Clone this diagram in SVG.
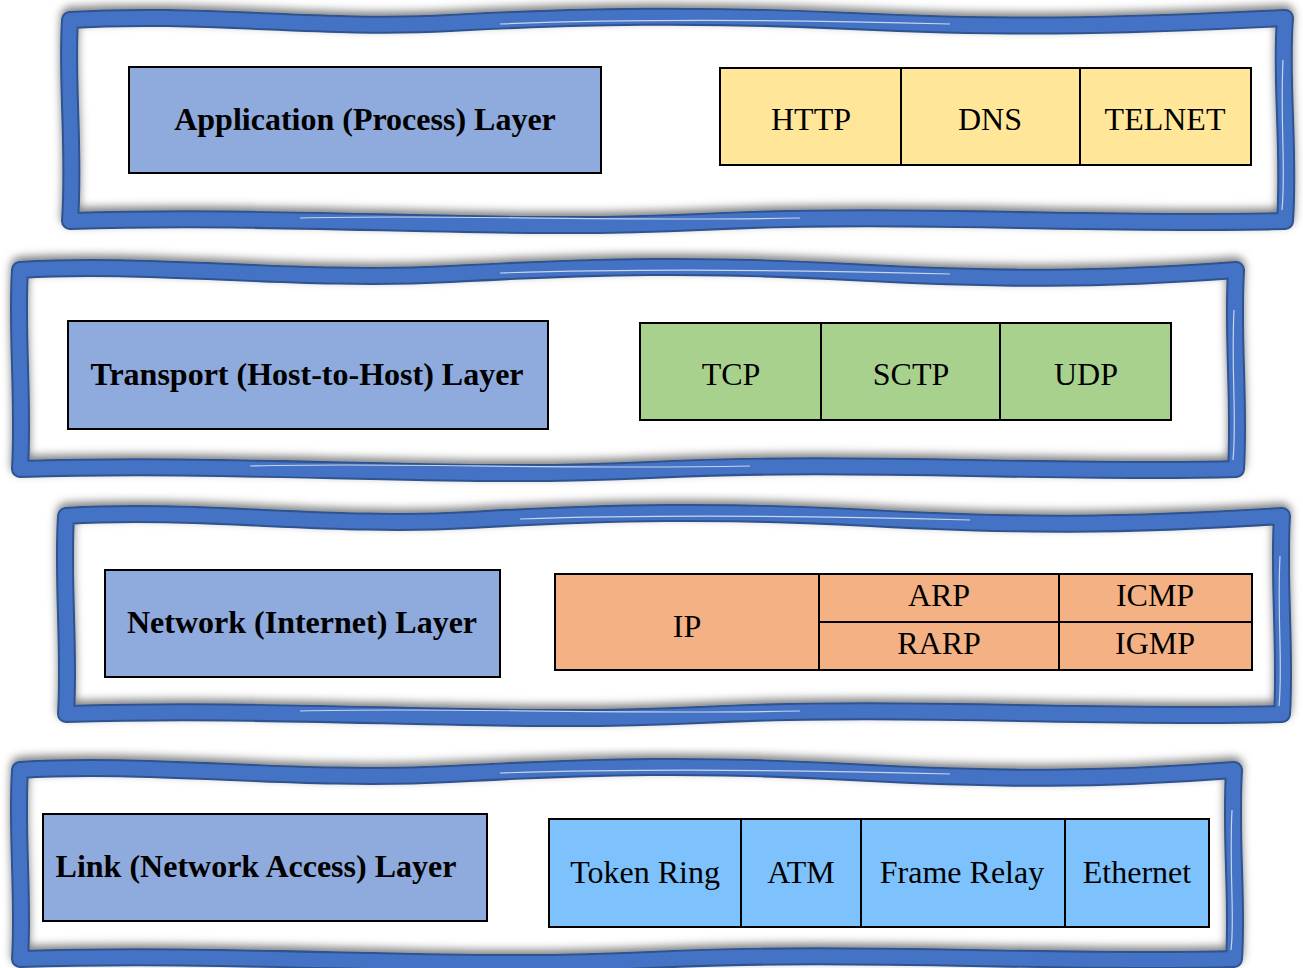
<svg xmlns="http://www.w3.org/2000/svg" width="1303" height="968" viewBox="0 0 1303 968">
<defs>
<filter id="sh" x="-5%" y="-10%" width="110%" height="120%">
<feDropShadow dx="0" dy="-4" stdDeviation="4.5" flood-color="#000" flood-opacity="0.5"/>
</filter>
</defs>
<style>
.edge{fill:none;stroke:#2F528F;stroke-width:18;stroke-linejoin:round}
.band{fill:none;stroke:#4472C4;stroke-width:14;stroke-linejoin:round}
.hl{fill:none;stroke:#ffffff;stroke-width:1.2;opacity:0.7}
.lbl{fill:#8FAADC;stroke:#000;stroke-width:2}
.cell{stroke:#000;stroke-width:2}
.div{stroke:#000;stroke-width:2}
.t{font-family:"Liberation Serif","Times New Roman",serif;font-size:32px;fill:#000;text-anchor:middle;dominant-baseline:central}
.b{font-weight:bold}
</style>

<g id="frame-application">
<g filter="url(#sh)">
<path class="edge" d="M70 20 C200 12 320 30 450 23 S700 14 850 21 S1100 27 1285 18 C1280 80 1290 150 1285 221 C1100 226 900 212 700 222 S300 214 70 221 C75 150 66 80 70 20 Z"/>
</g>
<path class="band" d="M70 20 C200 12 320 30 450 23 S700 14 850 21 S1100 27 1285 18 C1280 80 1290 150 1285 221 C1100 226 900 212 700 222 S300 214 70 221 C75 150 66 80 70 20 Z"/>
<path class="hl" d="M500 24 C650 18 800 20 950 24 M300 218 C450 214 600 222 800 218 M1283 60 C1280 120 1286 170 1282 210"/>
<rect class="lbl" x="129" y="67" width="472" height="106"/>
<text class="t b" x="365" y="119">Application (Process) Layer</text>
<rect class="cell" x="720" y="68" width="531" height="97" fill="#FFE699"/>
<line class="div" x1="901" y1="68" x2="901" y2="165"/>
<line class="div" x1="1080" y1="68" x2="1080" y2="165"/>
<text class="t" x="811" y="119">HTTP</text>
<text class="t" x="990" y="119">DNS</text>
<text class="t" x="1165" y="119">TELNET</text>
</g>

<g id="frame-transport">
<g filter="url(#sh)">
<path class="edge" d="M20 270 C150 262 300 282 450 274 S700 264 850 272 S1100 280 1236 270 C1232 340 1240 400 1236 469 C1050 474 850 460 650 470 S250 462 20 469 C24 400 16 330 20 270 Z"/>
</g>
<path class="band" d="M20 270 C150 262 300 282 450 274 S700 264 850 272 S1100 280 1236 270 C1232 340 1240 400 1236 469 C1050 474 850 460 650 470 S250 462 20 469 C24 400 16 330 20 270 Z"/>
<path class="hl" d="M500 273 C650 268 800 270 950 274 M250 466 C400 462 550 470 750 466 M1234 310 C1231 370 1237 420 1233 460"/>
<rect class="lbl" x="68" y="321" width="480" height="108"/>
<text class="t b" x="307" y="374">Transport (Host-to-Host) Layer</text>
<rect class="cell" x="640" y="323" width="531" height="97" fill="#A9D18E"/>
<line class="div" x1="821" y1="323" x2="821" y2="420"/>
<line class="div" x1="1000" y1="323" x2="1000" y2="420"/>
<text class="t" x="731" y="374">TCP</text>
<text class="t" x="911" y="374">SCTP</text>
<text class="t" x="1086" y="374">UDP</text>
</g>

<g id="frame-network">
<g filter="url(#sh)">
<path class="edge" d="M66 516 C200 508 330 528 470 520 S720 510 870 518 S1120 526 1282 516 C1278 580 1286 650 1282 714 C1100 719 900 705 700 715 S300 707 66 714 C70 650 62 580 66 516 Z"/>
</g>
<path class="band" d="M66 516 C200 508 330 528 470 520 S720 510 870 518 S1120 526 1282 516 C1278 580 1286 650 1282 714 C1100 719 900 705 700 715 S300 707 66 714 C70 650 62 580 66 516 Z"/>
<path class="hl" d="M520 519 C670 514 820 516 970 520 M300 711 C450 707 600 715 800 711 M1280 556 C1277 616 1283 666 1279 706"/>
<rect class="lbl" x="105" y="570" width="395" height="107"/>
<text class="t b" x="302" y="622">Network (Internet) Layer</text>
<rect class="cell" x="555" y="574" width="697" height="96" fill="#F4B183"/>
<line class="div" x1="819" y1="574" x2="819" y2="670"/>
<line class="div" x1="1059" y1="574" x2="1059" y2="670"/>
<line class="div" x1="819" y1="622" x2="1252" y2="622"/>
<text class="t" x="687" y="626">IP</text>
<text class="t" x="939" y="595">ARP</text>
<text class="t" x="1155" y="595">ICMP</text>
<text class="t" x="939" y="643">RARP</text>
<text class="t" x="1155" y="643">IGMP</text>
</g>

<g id="frame-link">
<g filter="url(#sh)">
<path class="edge" d="M20 770 C150 762 300 782 450 774 S700 764 850 772 S1100 780 1234 770 C1230 840 1238 900 1234 959 C1050 964 850 950 650 960 S250 952 20 959 C24 900 16 830 20 770 Z"/>
</g>
<path class="band" d="M20 770 C150 762 300 782 450 774 S700 764 850 772 S1100 780 1234 770 C1230 840 1238 900 1234 959 C1050 964 850 950 650 960 S250 952 20 959 C24 900 16 830 20 770 Z"/>
<path class="hl" d="M500 773 C650 768 800 770 950 774 M1232 810 C1229 870 1235 920 1231 950"/>
<rect class="lbl" x="43" y="814" width="444" height="107"/>
<text class="t b" x="256" y="866">Link (Network Access) Layer</text>
<rect class="cell" x="549" y="819" width="660" height="108" fill="#7DC2FC"/>
<line class="div" x1="741" y1="819" x2="741" y2="927"/>
<line class="div" x1="861" y1="819" x2="861" y2="927"/>
<line class="div" x1="1065" y1="819" x2="1065" y2="927"/>
<text class="t" x="645" y="872">Token Ring</text>
<text class="t" x="801" y="872">ATM</text>
<text class="t" x="962" y="872">Frame Relay</text>
<text class="t" x="1137" y="872">Ethernet</text>
</g>
</svg>
